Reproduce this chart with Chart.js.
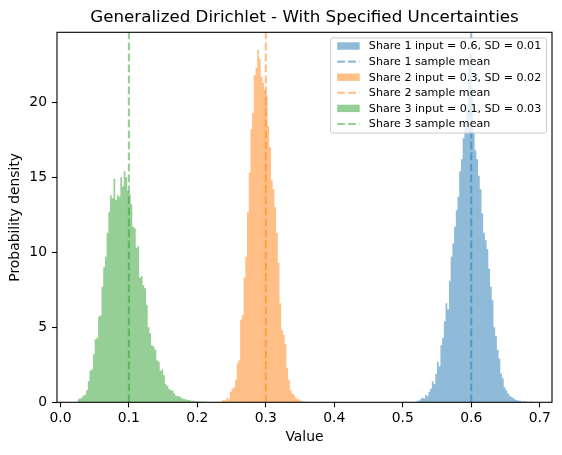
<!DOCTYPE html>
<html><head><meta charset="utf-8">
<script src="https://cdn.jsdelivr.net/npm/chart.js@4.4.0/dist/chart.umd.min.js"></script>
<style>html,body{margin:0;padding:0;background:#fff;overflow:hidden;}</style>
</head><body>
<canvas id="c" width="562" height="455" style="width:562px;height:455px;display:block"></canvas>
<script>
// ---------------- data ----------------
const binWidth = 0.0025;

const share1Start = 0.52;
const share1Density = [
  0.05,0.1,0.1,0.2, 0.3,0.25,0.5,0.4, 0.7,0.9,1.4,1.2, 1.9,2.7,2.4,3.8,
  4.3,5.4,6.6,6.2, 8.1,9.7,10.6,11.7, 12.8,13.7,15.4,16.2, 17.6,18.5,19.8,22.6,
  23.3,20.9,18.0,16.8, 16.2,15.1,14.2,12.6, 11.3,10.8,10.2,8.9, 7.7,6.8,5.0,4.4,
  3.5,2.9,1.9,1.6, 1.0,0.8,0.6,0.45, 0.35,0.3,0.2,0.15, 0.1,0.12,0.05,0.08,
  0.05,0.04,0.0,0.05
];

const share2Start = 0.235;
const share2Density = [
  0.05,0.1,0.15,0.1, 0.3,0.2,0.7,0.9, 1.0,1.5,2.6,2.8, 5.5,5.8,8.3,9.7,
  12.7,15.3,18.2,19.3, 21.8,22.3,23.5,22.9, 21.7,21.3,20.8,20.5, 18.4,17.0,14.8,14.2,
  13.0,11.3,9.3,6.6, 4.8,4.5,3.9,2.3, 1.5,0.8,0.6,0.5, 0.3,0.2,0.2,0.1,
  0.05,0.05
];

const share3Start = 0.025;
const share3Density = [
  0.15,0.2,0.25,0.3, 0.45,0.5,0.8,1.4, 2.1,2.2,3.2,4.2, 4.3,5.7,5.8,7.7,
  9.0,9.7,11.3,12.7, 13.8,13.6,14.9,13.5, 13.8,13.7,15.0,14.4, 15.4,15.0,14.1,13.9,
  13.2,11.7,11.6,10.3, 10.4,8.3,8.4,7.8, 7.6,6.5,5.0,4.6, 3.8,3.7,3.5,2.8,
  2.7,2.1,2.2,1.8, 1.2,1.1,0.9,0.8, 0.8,0.6,0.45,0.4, 0.4,0.3,0.25,0.2,
  0.2,0.15,0.15,0.1, 0.1,0.05,0.08,0.05, 0.05,0.03,0.05,0.0, 0.03,0.0,0.02,0.0
];

const sampleMeans = [0.6, 0.3, 0.1];
const histLabels = ['Share 1 input = 0.6, SD = 0.01','Share 2 input = 0.3, SD = 0.02','Share 3 input = 0.1, SD = 0.03'];
const meanLabels = ['Share 1 sample mean','Share 2 sample mean','Share 3 sample mean'];
const titleText = 'Generalized Dirichlet - With Specified Uncertainties';
const xTicks = [0.0,0.1,0.2,0.3,0.4,0.5,0.6,0.7];
const yTicks = [0,5,10,15,20];
const xRange = [-0.005, 0.718];
const yRange = [0, 24.67];

// ---------------- styles ----------------
const baseColors = [[31,119,180],[255,127,14],[44,160,44]];
const rgba = (c,a)=>`rgba(${c[0]},${c[1]},${c[2]},${a})`;
const FONT = "'DejaVu Sans', sans-serif";

function stepPoints(start, dens){
  const pts = dens.map((d,i)=>({x: start + i*binWidth, y: d}));
  pts.push({x: start + dens.length*binWidth, y: dens[dens.length-1]});
  return pts;
}

const starts = [share1Start, share2Start, share3Start];
const dens = [share1Density, share2Density, share3Density];

const datasets = [];
for (let i=0;i<3;i++){
  datasets.push({
    label: histLabels[i], kind:'hist', ci:i,
    data: stepPoints(starts[i], dens[i]),
    stepped: 'after', borderWidth: 0, pointRadius: 0,
    backgroundColor: rgba(baseColors[i],0.5), borderColor: 'rgba(0,0,0,0)',
    fill: 'origin', order: 2, tension: 0
  });
  datasets.push({
    label: meanLabels[i], kind:'mean', ci:i,
    data: [{x: sampleMeans[i], y: yRange[0]},{x: sampleMeans[i], y: yRange[1]}],
    borderColor: rgba(baseColors[i],0.5), borderWidth: 2.1, borderDash: [7.7,3.3],
    pointRadius: 0, fill: false, order: 1, borderCapStyle:'butt'
  });
}

const framePlugin = {
  id:'frame',
  afterDatasetsDraw(chart){
    const {ctx, chartArea:a} = chart;
    ctx.save();
    ctx.strokeStyle='#000'; ctx.lineWidth=1.1;
    ctx.strokeRect(a.left, a.top, a.right-a.left, a.bottom-a.top);
    ctx.fillStyle='#000'; ctx.font=`16.7px ${FONT}`;
    ctx.textAlign='center'; ctx.textBaseline='middle';
    ctx.fillText(titleText, (a.left+a.right)/2, 18);
    ctx.restore();
  }
};

const legendPlugin = {
  id:'mplLegend',
  afterDraw(chart){
    const {ctx, chartArea:a} = chart;
    const fs = 11.1;
    ctx.save();
    ctx.font = `${fs}px ${FONT}`;
    const ds = chart.data.datasets;
    let tw = 0;
    ds.forEach(d=>{ tw = Math.max(tw, ctx.measureText(d.label).width); });
    const right = a.right - 5.5, top = a.top + 5.7;
    const pitch = 15.6;
    const w = 38.3 + tw + 5.3;
    const h = 8 + pitch*(ds.length-1) + 9;
    const left = right - w;
    const r = 2.2;
    ctx.beginPath();
    ctx.moveTo(left+r, top); ctx.lineTo(right-r, top); ctx.arcTo(right, top, right, top+r, r);
    ctx.lineTo(right, top+h-r); ctx.arcTo(right, top+h, right-r, top+h, r);
    ctx.lineTo(left+r, top+h); ctx.arcTo(left, top+h, left, top+h-r, r);
    ctx.lineTo(left, top+r); ctx.arcTo(left, top, left+r, top, r);
    ctx.closePath();
    ctx.fillStyle='rgba(255,255,255,0.8)'; ctx.fill();
    ctx.strokeStyle='#cccccc'; ctx.lineWidth=1; ctx.stroke();
    ds.forEach((d,i)=>{
      const cy = top + 8 + i*pitch;
      const hx = left + 6.6, hw = 22.5;
      if (d.kind==='hist'){
        ctx.fillStyle = d.backgroundColor;
        ctx.fillRect(hx, cy-3.7, hw, 7.4);
      } else {
        ctx.strokeStyle = d.borderColor; ctx.lineWidth = 2.1;
        ctx.setLineDash([7.7,3.3]); ctx.lineCap='butt';
        ctx.beginPath(); ctx.moveTo(hx, cy); ctx.lineTo(hx+hw, cy); ctx.stroke();
        ctx.setLineDash([]);
      }
      ctx.fillStyle='#000'; ctx.textBaseline='middle'; ctx.textAlign='left';
      ctx.fillText(d.label, left + 38.3, cy+0.5);
    });
    ctx.restore();
  }
};

new Chart(document.getElementById('c'), {
  type:'line',
  data:{datasets},
  options:{
    responsive:false, animation:false, devicePixelRatio:1,
    layout:{padding:{left:0,right:10,top:32.3,bottom:0}},
    plugins:{
      legend:{display:false}, tooltip:{enabled:false}, title:{display:false}
    },
    scales:{
      x:{type:'linear', min:xRange[0], max:xRange[1], offset:false,
        afterFit(s){ s.height = 52.7; },
        afterBuildTicks(s){ s.ticks = xTicks.map(v=>({value:v})); },
        ticks:{color:'#000', font:{family:FONT,size:13.9}, padding:3, maxRotation:0, autoSkip:false,
          callback:(v)=>Number(v).toFixed(1)},
        grid:{display:true, drawOnChartArea:false, drawTicks:true, tickLength:5, tickWidth:1.1, tickColor:'#000'},
        border:{display:false},
        title:{display:true, text:'Value', color:'#000', font:{family:FONT,size:13.9,lineHeight:1.2}, padding:{top:0,bottom:9.7}}
      },
      y:{type:'linear', min:yRange[0], max:yRange[1],
        afterFit(s){ s.width = 57; },
        afterBuildTicks(s){ s.ticks = yTicks.map(v=>({value:v})); },
        ticks:{color:'#000', font:{family:FONT,size:13.9}, padding:5, callback:(v)=>String(v)},
        grid:{display:true, drawOnChartArea:false, drawTicks:true, tickLength:5, tickWidth:1.1, tickColor:'#000'},
        border:{display:false},
        title:{display:true, text:'Probability density', color:'#000', font:{family:FONT,size:13.9,lineHeight:1.2}, padding:{top:7.5,bottom:0}}
      }
    }
  },
  plugins:[framePlugin, legendPlugin]
});
</script>
</body></html>
